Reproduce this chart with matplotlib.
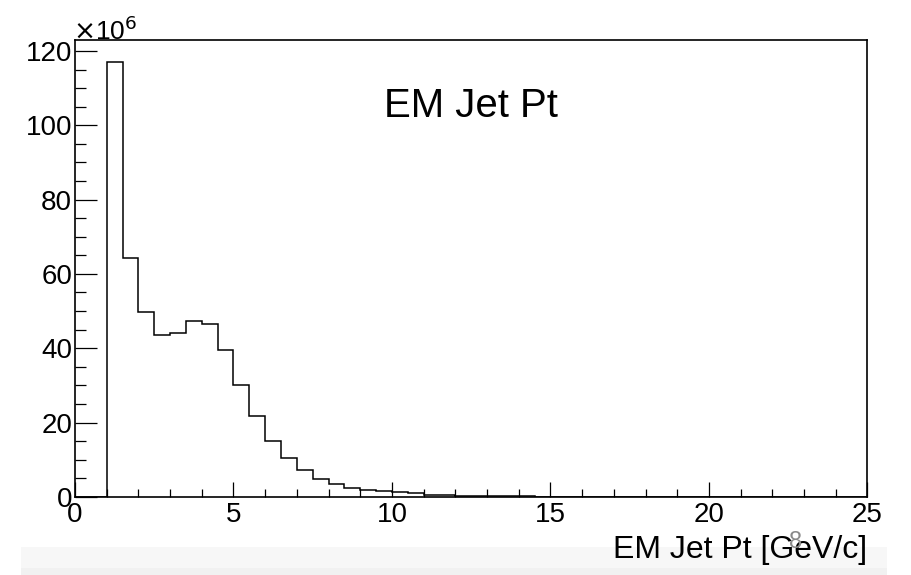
import numpy as np
import matplotlib
matplotlib.use("Agg")
import matplotlib.pyplot as plt
from matplotlib.patches import Rectangle
from matplotlib.ticker import MultipleLocator

plt.rcParams['font.family'] = ['Liberation Sans', 'DejaVu Sans']

# EM jet pt histogram, bin width 0.5 GeV/c, counts in units of 1e6
bin_lo = 0.0
bin_hi = 25.0
bin_width = 0.5
counts = [
    0.0, 0.0,                      # 0 - 1
    117.0, 64.2, 49.7, 43.5, 44.1, 47.3, 46.5, 39.5,   # 1 - 5
    30.1, 21.7, 15.0, 10.4, 7.1, 4.8, 3.4, 2.3,        # 5 - 9
    1.9, 1.5, 1.2, 0.9, 0.6, 0.5, 0.3, 0.25,           # 9 - 13
    0.2, 0.15, 0.12,                                   # 13 - 14.5
]
counts = counts + [0.0] * (int((bin_hi - bin_lo) / bin_width) - len(counts))
edges = np.arange(bin_lo, bin_hi + bin_width / 2, bin_width)

title = "EM Jet Pt"
xlabel = "EM Jet Pt [GeV/c]"

fig = plt.figure(figsize=(9.12, 5.75), dpi=100)
ax = fig.add_axes([0.0822, 0.136, 0.869, 0.794])

# faint slide footer band behind the axis title
fig.patches.append(Rectangle((21 / 912, 0), 866 / 912, 28 / 575, transform=fig.transFigure,
                             facecolor='#f7f7f7', edgecolor='none', zorder=-2))
fig.patches.append(Rectangle((21 / 912, 0), 866 / 912, 7 / 575, transform=fig.transFigure,
                             facecolor='#f1f1f1', edgecolor='none', zorder=-1))

ax.stairs(counts, edges, baseline=0, color='black', lw=1.1)

ax.set_xlim(bin_lo, bin_hi)
ax.set_ylim(0, 122.9)

ax.xaxis.set_major_locator(MultipleLocator(5))
ax.xaxis.set_minor_locator(MultipleLocator(1))
ax.yaxis.set_major_locator(MultipleLocator(20))
ax.yaxis.set_minor_locator(MultipleLocator(5))

ax.tick_params(axis='both', which='both', direction='in', labelsize=20,
               top=False, right=False, width=0.9)
ax.tick_params(axis='x', which='major', length=11, pad=4)
ax.tick_params(axis='x', which='minor', length=5.5)
ax.tick_params(axis='y', which='major', length=16, pad=2)
ax.tick_params(axis='y', which='minor', length=8)

for sp in ax.spines.values():
    sp.set_linewidth(1.2)

ax.text(0.5, 0.855, title, transform=ax.transAxes, ha='center', va='center', fontsize=29)
ax.text(-0.002, 0.99, r"$\times$10$^{6}$", transform=ax.transAxes, ha='left', va='bottom',
        fontsize=19)

ax.set_xlabel(xlabel, fontsize=23)
ax.xaxis.set_label_coords(1.0, -0.083)
ax.xaxis.label.set_horizontalalignment('right')

# slide page number overlapping the axis title
fig.text(796 / 912, 1 - 542 / 575, "8", color='#8a8a8a', fontsize=17,
         ha='center', va='center', zorder=5)

fig.savefig("out.png", dpi=100)
